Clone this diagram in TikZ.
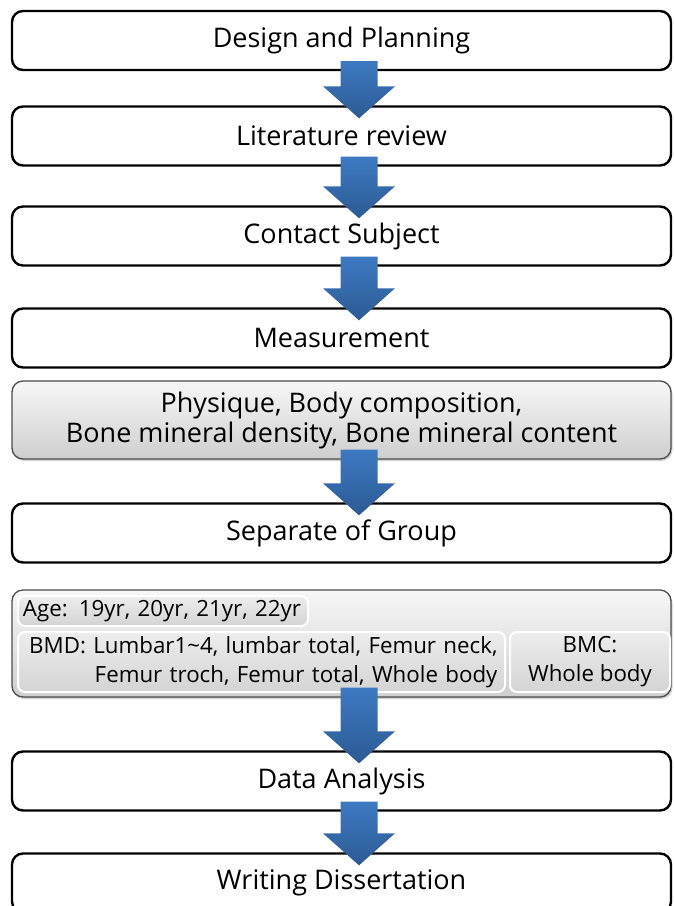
\documentclass[tikz,border=0pt]{standalone}
\usepackage{fontspec}
\setmainfont{Open Sans}
\usetikzlibrary{calc,shadows}
\definecolor{arrtop}{HTML}{3D7AC2}
\definecolor{arrbot}{HTML}{2C5A93}
\tikzset{
  stepbox/.style={draw=black, line width=2.4pt, rounded corners=11pt, fill=white,
    minimum width=659pt, minimum height=59pt, inner sep=0pt,
    font=\fontsize{27}{30}\selectfont},
  graybox/.style={draw=black!70, line width=1.3pt, rounded corners=11pt,
    top color=gray!6, bottom color=gray!38, minimum width=659pt, inner sep=0pt,
    drop shadow={opacity=0.35, shadow xshift=1.5pt, shadow yshift=-2pt},
    font=\fontsize{27}{30}\selectfont},
  innerbox/.style={draw=white, line width=2pt, rounded corners=7pt,
    top color=gray!14, bottom color=gray!34, inner sep=0pt,
    font=\fontsize{22.3}{29}\selectfont},
}
\newcommand{\flowarrow}[2]{%
  \shade[top color=arrtop, bottom color=arrbot]
    let \p1=($(#1.south)+(17.5,-10)$), \p2=($(#2.north)+(0,13)$) in
    (\x1-18.5pt,\y1) -- (\x1+18.5pt,\y1) -- (\x1+18.5pt,\y2+32pt) --
    (\x1+36pt,\y2+32pt) -- (\x1,\y2) -- (\x1-36pt,\y2+32pt) --
    (\x1-18.5pt,\y2+32pt) -- cycle;}
\begin{document}
\begin{tikzpicture}[x=1pt, y=-1pt]
\clip (0,0) rectangle (673,906);
\fill[white] (0,0) rectangle (673,906);
\node[stepbox] (s1) at (341.5,40.5) {Design and Planning};
\node[stepbox] (s2) at (341.5,136) {Literature review};
\node[stepbox] (s3) at (341.5,236) {Contact Subject};
\node[stepbox] (s4) at (341.5,338) {Measurement};
\node[graybox, minimum height=78pt, align=center] (s5) at (341.5,420)
  {Physique, Body composition,\\Bone mineral density, Bone mineral content};
\node[stepbox] (s6) at (341.5,533) {Separate of Group};
\node[graybox, minimum height=107pt] (s7) at (341.5,643.5) {};
\node[innerbox, minimum width=290pt, minimum height=30pt, text width=280pt,
  align=left, inner xsep=5pt] (age) at (163,611) {\mbox{Age: 19yr, 20yr, 21yr, 22yr}};
\node[innerbox, minimum width=487pt, minimum height=60pt, text width=472pt,
  inner xsep=7.5pt, align=right] (bmd)
  at (261.5,662) {\mbox{BMD: Lumbar1\textasciitilde4, lumbar total, Femur neck,}\\\mbox{Femur troch, Femur total, Whole body}};
\node[innerbox, minimum width=160pt, minimum height=60pt, align=center] (bmc)
  at (590,662) {BMC:\\Whole body};
\node[stepbox] (s8) at (341.5,781) {Data Analysis};
\node[stepbox] (s9) at (341.5,883) {Writing Dissertation};
\flowarrow{s1}{s2}
\flowarrow{s2}{s3}
\flowarrow{s3}{s4}
\flowarrow{s5}{s6}
\flowarrow{s7}{s8}
\flowarrow{s8}{s9}
\end{tikzpicture}
\end{document}
